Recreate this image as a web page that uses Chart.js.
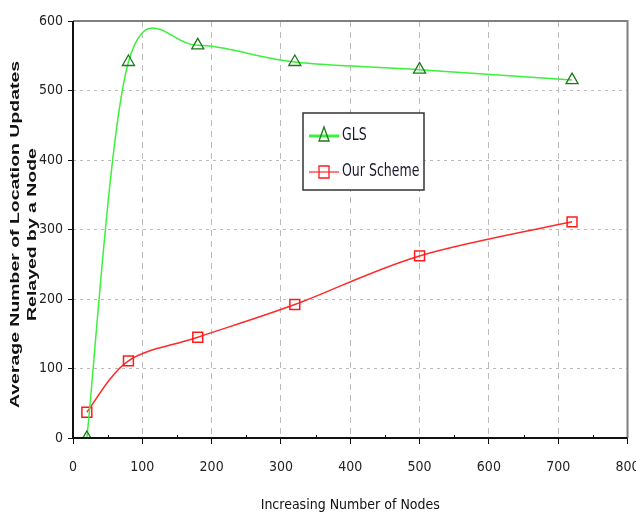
<!DOCTYPE html>
<html>
<head>
<meta charset="utf-8">
<script src="https://cdn.jsdelivr.net/npm/chart.js@4/dist/chart.umd.min.js"></script>
<style>
  html, body { margin: 0; padding: 0; background: #fff; }
  #wrap { width: 636px; height: 520px; }
</style>
</head>
<body>
<div id="wrap"><canvas id="chart" width="636" height="520"></canvas></div>
<script>
const nodeCounts = [20, 80, 180, 320, 500, 720];
const glsUpdates = [0, 541, 565, 541, 530, 515];
const ourSchemeUpdates = [37, 111, 145, 192, 262, 311];
const seriesNames = ['GLS', 'Our Scheme'];
const xTitle = 'Increasing Number of Nodes';
const yTitle = ['Average Number of Location Updates', 'Relayed by a Node'];

const narrow = "'DejaVu Sans Condensed', 'Liberation Sans Narrow', 'Arial Narrow', 'Liberation Sans', Arial, sans-serif";

const ctx = document.getElementById('chart').getContext('2d');

function toPoints(xs, ys) {
  return xs.map((x, i) => ({ x: x, y: ys[i] }));
}

// spreadsheet-style smoothing: control points at (next - prev) / 6
const smoothLines = {
  id: 'smoothLines',
  beforeDatasetDraw(chart, args) {
    const line = args.meta.dataset;
    line.updateControlPoints(chart.chartArea, 'x');
    const pts = line.points;
    pts.forEach((p, i) => {
      const prev = pts[i - 1] || p;
      const next = pts[i + 1] || p;
      const dx = (next.x - prev.x) / 6;
      const dy = (next.y - prev.y) / 6;
      p.cp1x = p.x - dx;
      p.cp1y = p.y - dy;
      p.cp2x = p.x + dx;
      p.cp2y = p.y + dy;
    });
  }
};

// frame round the plot area: dark left/bottom, grey top/right, minor x ticks
const framePlugin = {
  id: 'frame',
  afterDatasetsDraw(chart) {
    const a = chart.chartArea;
    const c = chart.ctx;
    const xs = chart.scales.x;
    c.save();
    c.lineWidth = 2;
    c.strokeStyle = '#7f7f7f';
    c.beginPath();
    c.moveTo(a.left, a.top);
    c.lineTo(a.right, a.top);
    c.lineTo(a.right, a.bottom);
    c.stroke();
    c.strokeStyle = '#111';
    c.beginPath();
    c.moveTo(a.left, a.top);
    c.lineTo(a.left, a.bottom);
    c.lineTo(a.right, a.bottom);
    c.stroke();
    c.lineWidth = 1;
    c.beginPath();
    for (let v = xs.min + 50; v < xs.max; v += 100) {
      const px = Math.round(xs.getPixelForValue(v)) + 0.5;
      c.moveTo(px, a.bottom - 3);
      c.lineTo(px, a.bottom);
    }
    c.stroke();
    c.restore();
  }
};

// wide bold vertical title, drawn beside the y axis
const yTitlePlugin = {
  id: 'yTitle',
  afterDraw(chart) {
    const c = chart.ctx;
    const cy = (chart.chartArea.top + chart.chartArea.bottom) / 2 + 5;
    const xs = [16, 33];
    c.save();
    c.fillStyle = '#111';
    c.font = "bold 12px 'Liberation Sans', Arial, sans-serif";
    c.textAlign = 'center';
    c.textBaseline = 'middle';
    yTitle.forEach((t, i) => {
      c.save();
      c.translate(xs[i], cy);
      c.rotate(-Math.PI / 2);
      c.scale(1.62, 1);
      c.fillText(t, 0, 0);
      c.restore();
    });
    c.restore();
  }
};

// boxed legend sitting inside the plot
const boxLegend = {
  id: 'boxLegend',
  afterDraw(chart) {
    const c = chart.ctx;
    const x0 = 303, y0 = 113, w = 121, h = 77;
    c.save();
    c.fillStyle = '#fff';
    c.fillRect(x0, y0, w, h);
    c.lineWidth = 1.5;
    c.strokeStyle = '#333';
    c.strokeRect(x0, y0, w, h);
    chart.data.datasets.forEach((ds, i) => {
      const y = y0 + 23 + i * 36;
      c.strokeStyle = ds.borderColor;
      c.lineWidth = i === 0 ? 3 : 1.2;
      c.beginPath();
      c.moveTo(x0 + 6, y);
      c.lineTo(x0 + 36, y);
      c.stroke();
      const mx = x0 + 21;
      c.lineWidth = 1.3;
      c.strokeStyle = ds.pointBorderColor;
      c.beginPath();
      if (ds.pointStyle === 'triangle') {
        c.moveTo(mx, y - 9);
        c.lineTo(mx + 5, y + 5);
        c.lineTo(mx - 5, y + 5);
        c.closePath();
      } else {
        c.rect(mx - 5, y - 6, 10, 12);
      }
      c.stroke();
      c.save();
      c.translate(x0 + 39, y);
      c.scale(0.82, 1);
      c.fillStyle = '#1a1a2e';
      c.font = '17px ' + narrow;
      c.textBaseline = 'middle';
      c.fillText(ds.label, 0, 0);
      c.restore();
    });
    c.restore();
  }
};

new Chart(ctx, {
  type: 'line',
  data: {
    datasets: [
      {
        label: seriesNames[0],
        data: toPoints(nodeCounts, glsUpdates),
        borderColor: '#3cf03c',
        borderWidth: 1.5,
        tension: 0.4,
        pointStyle: 'triangle',
        pointRadius: 7,
        pointBorderColor: '#1a7a1a',
        pointBackgroundColor: 'rgba(255,255,255,0)',
        pointBorderWidth: 1.3
      },
      {
        label: seriesNames[1],
        data: toPoints(nodeCounts, ourSchemeUpdates),
        borderColor: '#ff2a2a',
        borderWidth: 1.5,
        tension: 0.4,
        pointStyle: 'rect',
        pointRadius: 7,
        pointBorderColor: '#ff1a1a',
        pointBackgroundColor: 'rgba(255,255,255,0)',
        pointBorderWidth: 1.5
      }
    ]
  },
  options: {
    responsive: false,
    animation: false,
    layout: { padding: { top: 21, right: 6, left: 0, bottom: 0 } },
    plugins: {
      legend: { display: false },
      tooltip: { enabled: false }
    },
    scales: {
      x: {
        type: 'linear',
        min: 0,
        max: 800,
        ticks: {
          stepSize: 100,
          color: '#222',
          font: { family: narrow, size: 14 },
          padding: 15,
          maxRotation: 0
        },
        grid: {
          color: '#bbbbbb',
          lineWidth: 1,
          tickColor: '#111',
          tickLength: 6,
          drawTicks: true
        },
        border: { display: false, dash: [6, 5] },
        title: {
          display: true,
          text: xTitle,
          color: '#111',
          font: { family: narrow, size: 14 },
          padding: { top: 12, bottom: 6 }
        },
        afterFit(scale) {
          scale.height = 82;
          scale.paddingRight = 0;
          scale.paddingLeft = 0;
        }
      },
      y: {
        min: 0,
        max: 600,
        ticks: {
          stepSize: 100,
          color: '#222',
          font: { family: narrow, size: 14 },
          padding: 5
        },
        grid: {
          color: '#bbbbbb',
          lineWidth: 1,
          tickColor: '#111',
          tickLength: 5
        },
        border: { display: false, dash: [3, 4] },
        afterFit(scale) {
          scale.width = 73;
          scale.paddingTop = 0;
          scale.paddingBottom = 0;
        }
      }
    }
  },
  plugins: [smoothLines, framePlugin, yTitlePlugin, boxLegend]
});
</script>
</body>
</html>
